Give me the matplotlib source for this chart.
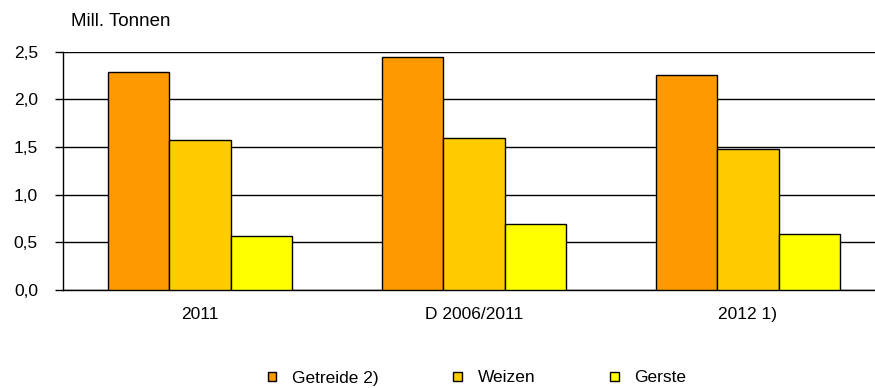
import matplotlib
matplotlib.use("Agg")
import matplotlib.pyplot as plt
import numpy as np

categories = ["2011", "D 2006/2011", "2012 1)"]
series_names = ["Getreide 2)", "Weizen", "Gerste"]
getreide = [2.29, 2.44, 2.25]
weizen = [1.57, 1.59, 1.48]
gerste = [0.57, 0.69, 0.59]
colors = ["#FF9900", "#FFCC00", "#FFFF00"]
yticks = [0.0, 0.5, 1.0, 1.5, 2.0, 2.5]
ytick_labels = ["0,0", "0,5", "1,0", "1,5", "2,0", "2,5"]

plt.rcParams['font.family'] = ['Liberation Sans', 'DejaVu Sans']

W, H = 875, 388
fig = plt.figure(figsize=(W / 100, H / 100), dpi=100)
ax = fig.add_axes([63 / W, (H - 290) / H, 1 - 63 / W, (290 - 51.5) / H])

x = np.arange(len(categories))
bw = 0.224
handles = []
for i, (vals, name, c) in enumerate(zip([getreide, weizen, gerste], series_names, colors)):
    b = ax.bar(x + (i - 1) * bw, vals, width=bw, color=c, edgecolor="black",
               linewidth=1.0, label=name, zorder=3)
    handles.append(b)

ax.set_xlim(-0.5, (875 - 200) / 274)
ax.set_ylim(0, 2.5)
ax.set_yticks(yticks)
ax.set_yticklabels(ytick_labels)
ax.set_xticks(x)
ax.set_xticklabels(categories)
ax.yaxis.grid(True, color="black", linewidth=1.0, zorder=0)
ax.set_axisbelow(True)
for s in ["top", "right"]:
    ax.spines[s].set_visible(False)
ax.spines["left"].set_linewidth(1.0)
ax.spines["bottom"].set_linewidth(1.0)
ax.tick_params(axis="y", length=6, width=1.0, pad=12, labelsize=12.5, direction="out")
ax.tick_params(axis="x", length=0, pad=12, labelsize=12.5)

fig.text(71 / W, 1 - 21 / H, "Mill. Tonnen", fontsize=13.5, va="center", ha="left")

fig.legend(handles=handles, labels=series_names, loc="center",
           bbox_to_anchor=(477 / W, 1 - 378 / H), ncol=3, frameon=False,
           fontsize=12.5, handlelength=0.5, handleheight=0.45,
           handletextpad=0.9, columnspacing=4.3, borderpad=0.2)

fig.savefig("out.png", dpi=100)
